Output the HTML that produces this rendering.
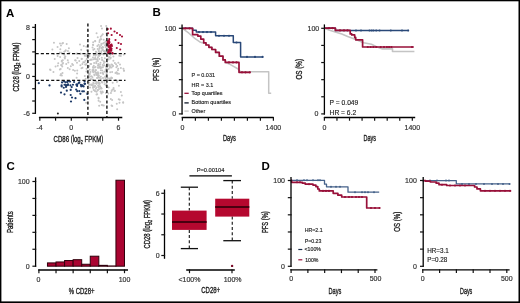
<!DOCTYPE html>
<html><head><meta charset="utf-8"><style>
html,body{margin:0;padding:0;background:#fff;}
body{width:520px;height:303px;overflow:hidden;}
svg{display:block;font-family:"Liberation Sans", sans-serif;will-change:transform;}
</style></head><body>
<svg width="520" height="303" viewBox="0 0 520 303">
<rect x="0" y="0" width="520" height="303" fill="#fff"/>
<text x="5.90" y="16.90" font-size="11.5" text-anchor="start" fill="#000" font-weight="bold" >A</text>
<circle cx="97.71" cy="49.09" r="1.0" fill="#c5c5c5"/>
<circle cx="99.54" cy="47.33" r="1.0" fill="#c5c5c5"/>
<circle cx="96.87" cy="53.15" r="1.0" fill="#c5c5c5"/>
<circle cx="103.68" cy="39.72" r="1.0" fill="#c5c5c5"/>
<circle cx="97.77" cy="37.19" r="1.0" fill="#c5c5c5"/>
<circle cx="101.85" cy="47.84" r="1.0" fill="#c5c5c5"/>
<circle cx="95.23" cy="41.23" r="1.0" fill="#c5c5c5"/>
<circle cx="106.69" cy="50.43" r="1.0" fill="#c5c5c5"/>
<circle cx="86.94" cy="50.25" r="1.0" fill="#c5c5c5"/>
<circle cx="101.22" cy="39.20" r="1.0" fill="#c5c5c5"/>
<circle cx="106.74" cy="52.11" r="1.0" fill="#c5c5c5"/>
<circle cx="104.74" cy="53.19" r="1.0" fill="#c5c5c5"/>
<circle cx="105.32" cy="45.00" r="1.0" fill="#c5c5c5"/>
<circle cx="98.73" cy="51.27" r="1.0" fill="#c5c5c5"/>
<circle cx="93.18" cy="44.88" r="1.0" fill="#c5c5c5"/>
<circle cx="96.14" cy="51.77" r="1.0" fill="#c5c5c5"/>
<circle cx="95.71" cy="53.97" r="1.0" fill="#c5c5c5"/>
<circle cx="101.27" cy="51.22" r="1.0" fill="#c5c5c5"/>
<circle cx="100.76" cy="36.80" r="1.0" fill="#c5c5c5"/>
<circle cx="105.20" cy="45.39" r="1.0" fill="#c5c5c5"/>
<circle cx="106.76" cy="49.19" r="1.0" fill="#c5c5c5"/>
<circle cx="106.67" cy="40.92" r="1.0" fill="#c5c5c5"/>
<circle cx="102.99" cy="43.44" r="1.0" fill="#c5c5c5"/>
<circle cx="92.53" cy="47.43" r="1.0" fill="#c5c5c5"/>
<circle cx="102.01" cy="53.97" r="1.0" fill="#c5c5c5"/>
<circle cx="99.88" cy="46.17" r="1.0" fill="#c5c5c5"/>
<circle cx="99.51" cy="52.39" r="1.0" fill="#c5c5c5"/>
<circle cx="97.39" cy="45.89" r="1.0" fill="#c5c5c5"/>
<circle cx="106.37" cy="43.86" r="1.0" fill="#c5c5c5"/>
<circle cx="101.36" cy="47.91" r="1.0" fill="#c5c5c5"/>
<circle cx="94.36" cy="49.10" r="1.0" fill="#c5c5c5"/>
<circle cx="103.06" cy="47.40" r="1.0" fill="#c5c5c5"/>
<circle cx="105.24" cy="51.29" r="1.0" fill="#c5c5c5"/>
<circle cx="106.04" cy="46.22" r="1.0" fill="#c5c5c5"/>
<circle cx="99.38" cy="48.85" r="1.0" fill="#c5c5c5"/>
<circle cx="102.77" cy="34.35" r="1.0" fill="#c5c5c5"/>
<circle cx="99.68" cy="40.31" r="1.0" fill="#c5c5c5"/>
<circle cx="101.28" cy="44.92" r="1.0" fill="#c5c5c5"/>
<circle cx="106.03" cy="43.97" r="1.0" fill="#c5c5c5"/>
<circle cx="93.31" cy="49.74" r="1.0" fill="#c5c5c5"/>
<circle cx="101.95" cy="28.52" r="1.0" fill="#c5c5c5"/>
<circle cx="105.54" cy="41.38" r="1.0" fill="#c5c5c5"/>
<circle cx="100.51" cy="39.24" r="1.0" fill="#c5c5c5"/>
<circle cx="88.03" cy="30.91" r="1.0" fill="#c5c5c5"/>
<circle cx="106.08" cy="44.22" r="1.0" fill="#c5c5c5"/>
<circle cx="106.48" cy="42.51" r="1.0" fill="#c5c5c5"/>
<circle cx="106.60" cy="49.14" r="1.0" fill="#c5c5c5"/>
<circle cx="98.57" cy="44.78" r="1.0" fill="#c5c5c5"/>
<circle cx="107.02" cy="36.39" r="1.0" fill="#c5c5c5"/>
<circle cx="101.41" cy="43.69" r="1.0" fill="#c5c5c5"/>
<circle cx="98.60" cy="50.20" r="1.0" fill="#c5c5c5"/>
<circle cx="93.18" cy="42.22" r="1.0" fill="#c5c5c5"/>
<circle cx="105.60" cy="47.14" r="1.0" fill="#c5c5c5"/>
<circle cx="95.11" cy="40.95" r="1.0" fill="#c5c5c5"/>
<circle cx="107.48" cy="45.57" r="1.0" fill="#c5c5c5"/>
<circle cx="106.24" cy="26.00" r="1.0" fill="#c5c5c5"/>
<circle cx="101.05" cy="26.00" r="1.0" fill="#c5c5c5"/>
<circle cx="99.47" cy="42.07" r="1.0" fill="#c5c5c5"/>
<circle cx="104.20" cy="51.12" r="1.0" fill="#c5c5c5"/>
<circle cx="87.59" cy="45.97" r="1.0" fill="#c5c5c5"/>
<circle cx="106.59" cy="33.75" r="1.0" fill="#c5c5c5"/>
<circle cx="106.85" cy="29.80" r="1.0" fill="#c5c5c5"/>
<circle cx="102.02" cy="47.83" r="1.0" fill="#c5c5c5"/>
<circle cx="101.73" cy="35.48" r="1.0" fill="#c5c5c5"/>
<circle cx="102.27" cy="50.08" r="1.0" fill="#c5c5c5"/>
<circle cx="92.93" cy="44.73" r="1.0" fill="#c5c5c5"/>
<circle cx="102.61" cy="47.06" r="1.0" fill="#c5c5c5"/>
<circle cx="102.81" cy="49.64" r="1.0" fill="#c5c5c5"/>
<circle cx="101.20" cy="52.93" r="1.0" fill="#c5c5c5"/>
<circle cx="104.84" cy="52.46" r="1.0" fill="#c5c5c5"/>
<circle cx="104.07" cy="42.84" r="1.0" fill="#c5c5c5"/>
<circle cx="103.68" cy="50.97" r="1.0" fill="#c5c5c5"/>
<circle cx="96.59" cy="33.15" r="1.0" fill="#c5c5c5"/>
<circle cx="95.89" cy="51.68" r="1.0" fill="#c5c5c5"/>
<circle cx="95.17" cy="57.65" r="1.0" fill="#c5c5c5"/>
<circle cx="89.11" cy="54.91" r="1.0" fill="#c5c5c5"/>
<circle cx="116.45" cy="72.23" r="1.0" fill="#c5c5c5"/>
<circle cx="100.97" cy="79.03" r="1.0" fill="#c5c5c5"/>
<circle cx="110.28" cy="66.54" r="1.0" fill="#c5c5c5"/>
<circle cx="100.52" cy="72.99" r="1.0" fill="#c5c5c5"/>
<circle cx="86.13" cy="55.96" r="1.0" fill="#c5c5c5"/>
<circle cx="97.60" cy="73.16" r="1.0" fill="#c5c5c5"/>
<circle cx="103.77" cy="63.15" r="1.0" fill="#c5c5c5"/>
<circle cx="112.15" cy="64.85" r="1.0" fill="#c5c5c5"/>
<circle cx="89.55" cy="74.55" r="1.0" fill="#c5c5c5"/>
<circle cx="105.82" cy="70.25" r="1.0" fill="#c5c5c5"/>
<circle cx="91.11" cy="63.94" r="1.0" fill="#c5c5c5"/>
<circle cx="89.48" cy="56.09" r="1.0" fill="#c5c5c5"/>
<circle cx="93.56" cy="70.62" r="1.0" fill="#c5c5c5"/>
<circle cx="115.45" cy="72.93" r="1.0" fill="#c5c5c5"/>
<circle cx="98.31" cy="64.10" r="1.0" fill="#c5c5c5"/>
<circle cx="98.01" cy="65.45" r="1.0" fill="#c5c5c5"/>
<circle cx="88.50" cy="75.80" r="1.0" fill="#c5c5c5"/>
<circle cx="110.52" cy="54.77" r="1.0" fill="#c5c5c5"/>
<circle cx="105.69" cy="69.63" r="1.0" fill="#c5c5c5"/>
<circle cx="93.25" cy="72.16" r="1.0" fill="#c5c5c5"/>
<circle cx="99.69" cy="66.93" r="1.0" fill="#c5c5c5"/>
<circle cx="85.46" cy="60.65" r="1.0" fill="#c5c5c5"/>
<circle cx="87.14" cy="54.29" r="1.0" fill="#c5c5c5"/>
<circle cx="95.20" cy="59.27" r="1.0" fill="#c5c5c5"/>
<circle cx="110.43" cy="58.41" r="1.0" fill="#c5c5c5"/>
<circle cx="108.75" cy="65.49" r="1.0" fill="#c5c5c5"/>
<circle cx="92.44" cy="77.18" r="1.0" fill="#c5c5c5"/>
<circle cx="93.49" cy="59.16" r="1.0" fill="#c5c5c5"/>
<circle cx="109.49" cy="65.20" r="1.0" fill="#c5c5c5"/>
<circle cx="105.11" cy="76.89" r="1.0" fill="#c5c5c5"/>
<circle cx="82.36" cy="63.99" r="1.0" fill="#c5c5c5"/>
<circle cx="92.95" cy="57.54" r="1.0" fill="#c5c5c5"/>
<circle cx="95.52" cy="66.91" r="1.0" fill="#c5c5c5"/>
<circle cx="107.09" cy="72.49" r="1.0" fill="#c5c5c5"/>
<circle cx="85.72" cy="78.70" r="1.0" fill="#c5c5c5"/>
<circle cx="98.18" cy="65.72" r="1.0" fill="#c5c5c5"/>
<circle cx="103.80" cy="61.15" r="1.0" fill="#c5c5c5"/>
<circle cx="100.85" cy="70.27" r="1.0" fill="#c5c5c5"/>
<circle cx="107.06" cy="66.84" r="1.0" fill="#c5c5c5"/>
<circle cx="92.89" cy="79.53" r="1.0" fill="#c5c5c5"/>
<circle cx="113.02" cy="65.76" r="1.0" fill="#c5c5c5"/>
<circle cx="100.80" cy="76.69" r="1.0" fill="#c5c5c5"/>
<circle cx="99.92" cy="55.08" r="1.0" fill="#c5c5c5"/>
<circle cx="96.33" cy="62.03" r="1.0" fill="#c5c5c5"/>
<circle cx="88.95" cy="74.58" r="1.0" fill="#c5c5c5"/>
<circle cx="103.29" cy="65.83" r="1.0" fill="#c5c5c5"/>
<circle cx="99.52" cy="54.64" r="1.0" fill="#c5c5c5"/>
<circle cx="101.83" cy="57.66" r="1.0" fill="#c5c5c5"/>
<circle cx="93.83" cy="55.22" r="1.0" fill="#c5c5c5"/>
<circle cx="93.01" cy="70.38" r="1.0" fill="#c5c5c5"/>
<circle cx="92.69" cy="71.03" r="1.0" fill="#c5c5c5"/>
<circle cx="106.12" cy="71.80" r="1.0" fill="#c5c5c5"/>
<circle cx="94.04" cy="54.28" r="1.0" fill="#c5c5c5"/>
<circle cx="99.78" cy="66.28" r="1.0" fill="#c5c5c5"/>
<circle cx="97.88" cy="61.08" r="1.0" fill="#c5c5c5"/>
<circle cx="94.10" cy="62.99" r="1.0" fill="#c5c5c5"/>
<circle cx="95.85" cy="69.98" r="1.0" fill="#c5c5c5"/>
<circle cx="89.83" cy="73.66" r="1.0" fill="#c5c5c5"/>
<circle cx="87.88" cy="77.56" r="1.0" fill="#c5c5c5"/>
<circle cx="107.79" cy="56.27" r="1.0" fill="#c5c5c5"/>
<circle cx="110.68" cy="57.38" r="1.0" fill="#c5c5c5"/>
<circle cx="93.74" cy="65.79" r="1.0" fill="#c5c5c5"/>
<circle cx="86.63" cy="63.80" r="1.0" fill="#c5c5c5"/>
<circle cx="86.54" cy="68.79" r="1.0" fill="#c5c5c5"/>
<circle cx="109.37" cy="78.55" r="1.0" fill="#c5c5c5"/>
<circle cx="89.18" cy="66.06" r="1.0" fill="#c5c5c5"/>
<circle cx="95.85" cy="72.77" r="1.0" fill="#c5c5c5"/>
<circle cx="94.59" cy="75.28" r="1.0" fill="#c5c5c5"/>
<circle cx="90.99" cy="59.55" r="1.0" fill="#c5c5c5"/>
<circle cx="89.11" cy="77.40" r="1.0" fill="#c5c5c5"/>
<circle cx="120.85" cy="67.96" r="1.0" fill="#c5c5c5"/>
<circle cx="96.31" cy="74.56" r="1.0" fill="#c5c5c5"/>
<circle cx="91.49" cy="76.25" r="1.0" fill="#c5c5c5"/>
<circle cx="114.87" cy="63.06" r="1.0" fill="#c5c5c5"/>
<circle cx="106.49" cy="68.31" r="1.0" fill="#c5c5c5"/>
<circle cx="103.29" cy="73.97" r="1.0" fill="#c5c5c5"/>
<circle cx="97.09" cy="75.04" r="1.0" fill="#c5c5c5"/>
<circle cx="99.15" cy="55.67" r="1.0" fill="#c5c5c5"/>
<circle cx="100.52" cy="62.71" r="1.0" fill="#c5c5c5"/>
<circle cx="94.31" cy="74.49" r="1.0" fill="#c5c5c5"/>
<circle cx="101.88" cy="67.43" r="1.0" fill="#c5c5c5"/>
<circle cx="102.51" cy="72.81" r="1.0" fill="#c5c5c5"/>
<circle cx="105.55" cy="78.59" r="1.0" fill="#c5c5c5"/>
<circle cx="88.67" cy="66.81" r="1.0" fill="#c5c5c5"/>
<circle cx="102.22" cy="59.76" r="1.0" fill="#c5c5c5"/>
<circle cx="97.93" cy="67.69" r="1.0" fill="#c5c5c5"/>
<circle cx="95.77" cy="70.61" r="1.0" fill="#c5c5c5"/>
<circle cx="111.52" cy="67.59" r="1.0" fill="#c5c5c5"/>
<circle cx="104.69" cy="62.10" r="1.0" fill="#c5c5c5"/>
<circle cx="90.47" cy="63.91" r="1.0" fill="#c5c5c5"/>
<circle cx="108.68" cy="59.41" r="1.0" fill="#c5c5c5"/>
<circle cx="84.80" cy="76.12" r="1.0" fill="#c5c5c5"/>
<circle cx="108.56" cy="68.90" r="1.0" fill="#c5c5c5"/>
<circle cx="97.08" cy="59.23" r="1.0" fill="#c5c5c5"/>
<circle cx="89.78" cy="69.74" r="1.0" fill="#c5c5c5"/>
<circle cx="96.88" cy="54.72" r="1.0" fill="#c5c5c5"/>
<circle cx="108.46" cy="64.42" r="1.0" fill="#c5c5c5"/>
<circle cx="97.16" cy="74.83" r="1.0" fill="#c5c5c5"/>
<circle cx="90.42" cy="71.97" r="1.0" fill="#c5c5c5"/>
<circle cx="95.42" cy="55.71" r="1.0" fill="#c5c5c5"/>
<circle cx="90.98" cy="78.88" r="1.0" fill="#c5c5c5"/>
<circle cx="97.01" cy="78.01" r="1.0" fill="#c5c5c5"/>
<circle cx="97.91" cy="57.30" r="1.0" fill="#c5c5c5"/>
<circle cx="107.99" cy="65.28" r="1.0" fill="#c5c5c5"/>
<circle cx="105.90" cy="66.39" r="1.0" fill="#c5c5c5"/>
<circle cx="83.26" cy="62.25" r="1.0" fill="#c5c5c5"/>
<circle cx="102.99" cy="78.06" r="1.0" fill="#c5c5c5"/>
<circle cx="109.35" cy="57.37" r="1.0" fill="#c5c5c5"/>
<circle cx="99.31" cy="59.05" r="1.0" fill="#c5c5c5"/>
<circle cx="97.31" cy="59.91" r="1.0" fill="#c5c5c5"/>
<circle cx="96.28" cy="63.24" r="1.0" fill="#c5c5c5"/>
<circle cx="92.49" cy="70.11" r="1.0" fill="#c5c5c5"/>
<circle cx="109.25" cy="57.19" r="1.0" fill="#c5c5c5"/>
<circle cx="106.94" cy="67.27" r="1.0" fill="#c5c5c5"/>
<circle cx="98.98" cy="67.79" r="1.0" fill="#c5c5c5"/>
<circle cx="104.31" cy="65.36" r="1.0" fill="#c5c5c5"/>
<circle cx="93.13" cy="67.76" r="1.0" fill="#c5c5c5"/>
<circle cx="104.82" cy="58.15" r="1.0" fill="#c5c5c5"/>
<circle cx="102.20" cy="70.60" r="1.0" fill="#c5c5c5"/>
<circle cx="109.84" cy="67.77" r="1.0" fill="#c5c5c5"/>
<circle cx="105.54" cy="76.28" r="1.0" fill="#c5c5c5"/>
<circle cx="90.15" cy="60.05" r="1.0" fill="#c5c5c5"/>
<circle cx="98.15" cy="77.47" r="1.0" fill="#c5c5c5"/>
<circle cx="84.43" cy="62.21" r="1.0" fill="#c5c5c5"/>
<circle cx="91.81" cy="59.67" r="1.0" fill="#c5c5c5"/>
<circle cx="115.62" cy="79.96" r="1.0" fill="#c5c5c5"/>
<circle cx="102.26" cy="60.22" r="1.0" fill="#c5c5c5"/>
<circle cx="96.21" cy="72.89" r="1.0" fill="#c5c5c5"/>
<circle cx="98.78" cy="75.64" r="1.0" fill="#c5c5c5"/>
<circle cx="102.61" cy="64.96" r="1.0" fill="#c5c5c5"/>
<circle cx="100.03" cy="64.47" r="1.0" fill="#c5c5c5"/>
<circle cx="94.98" cy="71.82" r="1.0" fill="#c5c5c5"/>
<circle cx="104.33" cy="71.74" r="1.0" fill="#c5c5c5"/>
<circle cx="99.60" cy="77.70" r="1.0" fill="#c5c5c5"/>
<circle cx="102.88" cy="67.15" r="1.0" fill="#c5c5c5"/>
<circle cx="98.22" cy="73.71" r="1.0" fill="#c5c5c5"/>
<circle cx="86.83" cy="58.91" r="1.0" fill="#c5c5c5"/>
<circle cx="98.79" cy="55.83" r="1.0" fill="#c5c5c5"/>
<circle cx="100.74" cy="68.34" r="1.0" fill="#c5c5c5"/>
<circle cx="100.37" cy="67.39" r="1.0" fill="#c5c5c5"/>
<circle cx="94.91" cy="58.80" r="1.0" fill="#c5c5c5"/>
<circle cx="97.11" cy="59.30" r="1.0" fill="#c5c5c5"/>
<circle cx="112.08" cy="78.10" r="1.0" fill="#c5c5c5"/>
<circle cx="117.21" cy="66.01" r="1.0" fill="#c5c5c5"/>
<circle cx="106.47" cy="73.88" r="1.0" fill="#c5c5c5"/>
<circle cx="94.83" cy="67.40" r="1.0" fill="#c5c5c5"/>
<circle cx="106.95" cy="65.18" r="1.0" fill="#c5c5c5"/>
<circle cx="97.95" cy="72.23" r="1.0" fill="#c5c5c5"/>
<circle cx="98.23" cy="75.95" r="1.0" fill="#c5c5c5"/>
<circle cx="102.68" cy="73.22" r="1.0" fill="#c5c5c5"/>
<circle cx="106.99" cy="64.54" r="1.0" fill="#c5c5c5"/>
<circle cx="100.62" cy="67.33" r="1.0" fill="#c5c5c5"/>
<circle cx="103.52" cy="54.40" r="1.0" fill="#c5c5c5"/>
<circle cx="110.27" cy="72.32" r="1.0" fill="#c5c5c5"/>
<circle cx="90.05" cy="76.38" r="1.0" fill="#c5c5c5"/>
<circle cx="93.40" cy="69.59" r="1.0" fill="#c5c5c5"/>
<circle cx="93.08" cy="67.11" r="1.0" fill="#c5c5c5"/>
<circle cx="113.38" cy="60.71" r="1.0" fill="#c5c5c5"/>
<circle cx="97.43" cy="77.69" r="1.0" fill="#c5c5c5"/>
<circle cx="98.51" cy="75.18" r="1.0" fill="#c5c5c5"/>
<circle cx="85.13" cy="64.55" r="1.0" fill="#c5c5c5"/>
<circle cx="112.11" cy="72.06" r="1.0" fill="#c5c5c5"/>
<circle cx="89.03" cy="73.95" r="1.0" fill="#c5c5c5"/>
<circle cx="120.01" cy="64.55" r="1.0" fill="#c5c5c5"/>
<circle cx="119.28" cy="55.83" r="1.0" fill="#c5c5c5"/>
<circle cx="112.81" cy="66.19" r="1.0" fill="#c5c5c5"/>
<circle cx="107.18" cy="63.25" r="1.0" fill="#c5c5c5"/>
<circle cx="117.86" cy="70.22" r="1.0" fill="#c5c5c5"/>
<circle cx="110.95" cy="78.56" r="1.0" fill="#c5c5c5"/>
<circle cx="118.32" cy="62.78" r="1.0" fill="#c5c5c5"/>
<circle cx="118.22" cy="68.81" r="1.0" fill="#c5c5c5"/>
<circle cx="116.06" cy="64.13" r="1.0" fill="#c5c5c5"/>
<circle cx="124.00" cy="70.70" r="1.0" fill="#c5c5c5"/>
<circle cx="118.92" cy="73.81" r="1.0" fill="#c5c5c5"/>
<circle cx="123.66" cy="54.59" r="1.0" fill="#c5c5c5"/>
<circle cx="117.46" cy="73.21" r="1.0" fill="#c5c5c5"/>
<circle cx="111.36" cy="64.44" r="1.0" fill="#c5c5c5"/>
<circle cx="107.86" cy="59.08" r="1.0" fill="#c5c5c5"/>
<circle cx="113.39" cy="56.56" r="1.0" fill="#c5c5c5"/>
<circle cx="111.27" cy="77.55" r="1.0" fill="#c5c5c5"/>
<circle cx="116.35" cy="67.20" r="1.0" fill="#c5c5c5"/>
<circle cx="123.44" cy="68.77" r="1.0" fill="#c5c5c5"/>
<circle cx="123.92" cy="70.59" r="1.0" fill="#c5c5c5"/>
<circle cx="120.76" cy="55.98" r="1.0" fill="#c5c5c5"/>
<circle cx="117.16" cy="73.74" r="1.0" fill="#c5c5c5"/>
<circle cx="107.77" cy="78.18" r="1.0" fill="#c5c5c5"/>
<circle cx="109.72" cy="66.27" r="1.0" fill="#c5c5c5"/>
<circle cx="109.88" cy="66.88" r="1.0" fill="#c5c5c5"/>
<circle cx="97.00" cy="82.51" r="1.0" fill="#c5c5c5"/>
<circle cx="106.38" cy="83.67" r="1.0" fill="#c5c5c5"/>
<circle cx="89.02" cy="82.53" r="1.0" fill="#c5c5c5"/>
<circle cx="94.91" cy="86.02" r="1.0" fill="#c5c5c5"/>
<circle cx="93.60" cy="90.05" r="1.0" fill="#c5c5c5"/>
<circle cx="96.51" cy="94.48" r="1.0" fill="#c5c5c5"/>
<circle cx="98.64" cy="81.95" r="1.0" fill="#c5c5c5"/>
<circle cx="99.07" cy="83.16" r="1.0" fill="#c5c5c5"/>
<circle cx="105.96" cy="93.06" r="1.0" fill="#c5c5c5"/>
<circle cx="86.67" cy="92.75" r="1.0" fill="#c5c5c5"/>
<circle cx="98.98" cy="83.39" r="1.0" fill="#c5c5c5"/>
<circle cx="116.99" cy="82.03" r="1.0" fill="#c5c5c5"/>
<circle cx="113.59" cy="89.21" r="1.0" fill="#c5c5c5"/>
<circle cx="91.28" cy="84.90" r="1.0" fill="#c5c5c5"/>
<circle cx="104.53" cy="81.63" r="1.0" fill="#c5c5c5"/>
<circle cx="97.56" cy="90.47" r="1.0" fill="#c5c5c5"/>
<circle cx="112.69" cy="82.70" r="1.0" fill="#c5c5c5"/>
<circle cx="96.05" cy="83.20" r="1.0" fill="#c5c5c5"/>
<circle cx="93.12" cy="87.49" r="1.0" fill="#c5c5c5"/>
<circle cx="99.70" cy="83.32" r="1.0" fill="#c5c5c5"/>
<circle cx="95.20" cy="81.31" r="1.0" fill="#c5c5c5"/>
<circle cx="88.57" cy="85.19" r="1.0" fill="#c5c5c5"/>
<circle cx="93.38" cy="82.43" r="1.0" fill="#c5c5c5"/>
<circle cx="92.20" cy="85.14" r="1.0" fill="#c5c5c5"/>
<circle cx="100.61" cy="91.40" r="1.0" fill="#c5c5c5"/>
<circle cx="117.52" cy="80.83" r="1.0" fill="#c5c5c5"/>
<circle cx="98.45" cy="87.11" r="1.0" fill="#c5c5c5"/>
<circle cx="110.96" cy="92.97" r="1.0" fill="#c5c5c5"/>
<circle cx="101.25" cy="92.81" r="1.0" fill="#c5c5c5"/>
<circle cx="95.22" cy="86.04" r="1.0" fill="#c5c5c5"/>
<circle cx="95.16" cy="91.16" r="1.0" fill="#c5c5c5"/>
<circle cx="90.09" cy="87.44" r="1.0" fill="#c5c5c5"/>
<circle cx="99.10" cy="86.34" r="1.0" fill="#c5c5c5"/>
<circle cx="99.14" cy="105.63" r="1.0" fill="#c5c5c5"/>
<circle cx="112.30" cy="89.84" r="1.0" fill="#c5c5c5"/>
<circle cx="101.57" cy="81.28" r="1.0" fill="#c5c5c5"/>
<circle cx="97.96" cy="89.89" r="1.0" fill="#c5c5c5"/>
<circle cx="96.51" cy="83.43" r="1.0" fill="#c5c5c5"/>
<circle cx="96.19" cy="81.40" r="1.0" fill="#c5c5c5"/>
<circle cx="108.64" cy="87.49" r="1.0" fill="#c5c5c5"/>
<circle cx="88.94" cy="84.48" r="1.0" fill="#c5c5c5"/>
<circle cx="93.02" cy="87.84" r="1.0" fill="#c5c5c5"/>
<circle cx="100.69" cy="88.51" r="1.0" fill="#c5c5c5"/>
<circle cx="98.53" cy="97.68" r="1.0" fill="#c5c5c5"/>
<circle cx="102.38" cy="82.55" r="1.0" fill="#c5c5c5"/>
<circle cx="102.81" cy="92.22" r="1.0" fill="#c5c5c5"/>
<circle cx="99.61" cy="86.69" r="1.0" fill="#c5c5c5"/>
<circle cx="93.85" cy="83.68" r="1.0" fill="#c5c5c5"/>
<circle cx="101.64" cy="88.53" r="1.0" fill="#c5c5c5"/>
<circle cx="86.16" cy="102.77" r="1.0" fill="#c5c5c5"/>
<circle cx="94.68" cy="90.60" r="1.0" fill="#c5c5c5"/>
<circle cx="98.59" cy="100.76" r="1.0" fill="#c5c5c5"/>
<circle cx="92.53" cy="84.29" r="1.0" fill="#c5c5c5"/>
<circle cx="111.54" cy="91.01" r="1.0" fill="#c5c5c5"/>
<circle cx="101.75" cy="82.27" r="1.0" fill="#c5c5c5"/>
<circle cx="91.06" cy="84.57" r="1.0" fill="#c5c5c5"/>
<circle cx="96.50" cy="87.47" r="1.0" fill="#c5c5c5"/>
<circle cx="99.48" cy="84.03" r="1.0" fill="#c5c5c5"/>
<circle cx="101.53" cy="93.41" r="1.0" fill="#c5c5c5"/>
<circle cx="104.56" cy="84.26" r="1.0" fill="#c5c5c5"/>
<circle cx="97.19" cy="94.18" r="1.0" fill="#c5c5c5"/>
<circle cx="98.14" cy="85.39" r="1.0" fill="#c5c5c5"/>
<circle cx="91.44" cy="91.78" r="1.0" fill="#c5c5c5"/>
<circle cx="96.50" cy="83.85" r="1.0" fill="#c5c5c5"/>
<circle cx="96.54" cy="91.80" r="1.0" fill="#c5c5c5"/>
<circle cx="114.51" cy="90.95" r="1.0" fill="#c5c5c5"/>
<circle cx="105.89" cy="85.50" r="1.0" fill="#c5c5c5"/>
<circle cx="101.09" cy="87.75" r="1.0" fill="#c5c5c5"/>
<circle cx="95.88" cy="88.78" r="1.0" fill="#c5c5c5"/>
<circle cx="113.59" cy="88.12" r="1.0" fill="#c5c5c5"/>
<circle cx="99.08" cy="89.03" r="1.0" fill="#c5c5c5"/>
<circle cx="94.27" cy="86.89" r="1.0" fill="#c5c5c5"/>
<circle cx="93.11" cy="85.94" r="1.0" fill="#c5c5c5"/>
<circle cx="102.27" cy="91.41" r="1.0" fill="#c5c5c5"/>
<circle cx="118.72" cy="99.14" r="1.0" fill="#c5c5c5"/>
<circle cx="119.75" cy="99.76" r="1.0" fill="#c5c5c5"/>
<circle cx="102.59" cy="105.25" r="1.0" fill="#c5c5c5"/>
<circle cx="120.90" cy="91.88" r="1.0" fill="#c5c5c5"/>
<circle cx="98.58" cy="98.44" r="1.0" fill="#c5c5c5"/>
<circle cx="112.15" cy="99.89" r="1.0" fill="#c5c5c5"/>
<circle cx="123.13" cy="102.23" r="1.0" fill="#c5c5c5"/>
<circle cx="118.91" cy="85.79" r="1.0" fill="#c5c5c5"/>
<circle cx="112.22" cy="106.07" r="1.0" fill="#c5c5c5"/>
<circle cx="100.19" cy="86.29" r="1.0" fill="#c5c5c5"/>
<circle cx="117.16" cy="109.17" r="1.0" fill="#c5c5c5"/>
<circle cx="100.20" cy="101.76" r="1.0" fill="#c5c5c5"/>
<circle cx="101.74" cy="104.88" r="1.0" fill="#c5c5c5"/>
<circle cx="114.87" cy="90.87" r="1.0" fill="#c5c5c5"/>
<circle cx="103.73" cy="105.43" r="1.0" fill="#c5c5c5"/>
<circle cx="111.56" cy="105.41" r="1.0" fill="#c5c5c5"/>
<circle cx="108.25" cy="93.46" r="1.0" fill="#c5c5c5"/>
<circle cx="123.18" cy="102.83" r="1.0" fill="#c5c5c5"/>
<circle cx="110.84" cy="99.05" r="1.0" fill="#c5c5c5"/>
<circle cx="116.74" cy="103.83" r="1.0" fill="#c5c5c5"/>
<circle cx="121.79" cy="95.50" r="1.0" fill="#c5c5c5"/>
<circle cx="119.48" cy="102.67" r="1.0" fill="#c5c5c5"/>
<circle cx="82.43" cy="67.87" r="1.0" fill="#c5c5c5"/>
<circle cx="83.77" cy="45.99" r="1.0" fill="#c5c5c5"/>
<circle cx="86.40" cy="55.03" r="1.0" fill="#c5c5c5"/>
<circle cx="76.98" cy="53.54" r="1.0" fill="#c5c5c5"/>
<circle cx="80.49" cy="53.72" r="1.0" fill="#c5c5c5"/>
<circle cx="55.56" cy="66.45" r="1.0" fill="#c5c5c5"/>
<circle cx="87.66" cy="58.13" r="1.0" fill="#c5c5c5"/>
<circle cx="57.77" cy="65.84" r="1.0" fill="#c5c5c5"/>
<circle cx="61.10" cy="65.09" r="1.0" fill="#c5c5c5"/>
<circle cx="61.72" cy="61.41" r="1.0" fill="#c5c5c5"/>
<circle cx="52.37" cy="49.52" r="1.0" fill="#c5c5c5"/>
<circle cx="72.19" cy="64.06" r="1.0" fill="#c5c5c5"/>
<circle cx="58.26" cy="63.31" r="1.0" fill="#c5c5c5"/>
<circle cx="60.68" cy="69.09" r="1.0" fill="#c5c5c5"/>
<circle cx="61.85" cy="75.39" r="1.0" fill="#c5c5c5"/>
<circle cx="70.83" cy="66.21" r="1.0" fill="#c5c5c5"/>
<circle cx="59.90" cy="52.62" r="1.0" fill="#c5c5c5"/>
<circle cx="84.74" cy="55.80" r="1.0" fill="#c5c5c5"/>
<circle cx="86.37" cy="71.49" r="1.0" fill="#c5c5c5"/>
<circle cx="68.34" cy="62.52" r="1.0" fill="#c5c5c5"/>
<circle cx="86.01" cy="64.83" r="1.0" fill="#c5c5c5"/>
<circle cx="80.45" cy="53.73" r="1.0" fill="#c5c5c5"/>
<circle cx="69.60" cy="69.29" r="1.0" fill="#c5c5c5"/>
<circle cx="60.43" cy="75.15" r="1.0" fill="#c5c5c5"/>
<circle cx="67.96" cy="50.89" r="1.0" fill="#c5c5c5"/>
<circle cx="77.10" cy="73.60" r="1.0" fill="#c5c5c5"/>
<circle cx="73.03" cy="64.89" r="1.0" fill="#c5c5c5"/>
<circle cx="62.23" cy="66.39" r="1.0" fill="#c5c5c5"/>
<circle cx="59.86" cy="69.39" r="1.0" fill="#c5c5c5"/>
<circle cx="87.74" cy="54.06" r="1.0" fill="#c5c5c5"/>
<circle cx="60.13" cy="56.98" r="1.0" fill="#c5c5c5"/>
<circle cx="79.27" cy="60.89" r="1.0" fill="#c5c5c5"/>
<circle cx="50.05" cy="69.55" r="1.0" fill="#c5c5c5"/>
<circle cx="77.23" cy="70.43" r="1.0" fill="#c5c5c5"/>
<circle cx="67.81" cy="67.90" r="1.0" fill="#c5c5c5"/>
<circle cx="86.31" cy="46.81" r="1.0" fill="#c5c5c5"/>
<circle cx="61.54" cy="52.80" r="1.0" fill="#c5c5c5"/>
<circle cx="79.99" cy="44.60" r="1.0" fill="#c5c5c5"/>
<circle cx="53.46" cy="72.00" r="1.0" fill="#c5c5c5"/>
<circle cx="81.62" cy="59.04" r="1.0" fill="#c5c5c5"/>
<circle cx="61.83" cy="60.67" r="1.0" fill="#c5c5c5"/>
<circle cx="61.62" cy="65.32" r="1.0" fill="#c5c5c5"/>
<circle cx="67.75" cy="60.15" r="1.0" fill="#c5c5c5"/>
<circle cx="76.11" cy="53.70" r="1.0" fill="#c5c5c5"/>
<circle cx="54.02" cy="54.11" r="1.0" fill="#c5c5c5"/>
<circle cx="81.53" cy="68.18" r="1.0" fill="#c5c5c5"/>
<circle cx="74.85" cy="70.73" r="1.0" fill="#c5c5c5"/>
<circle cx="76.98" cy="62.68" r="1.0" fill="#c5c5c5"/>
<circle cx="87.68" cy="58.09" r="1.0" fill="#c5c5c5"/>
<circle cx="80.38" cy="65.34" r="1.0" fill="#c5c5c5"/>
<circle cx="61.03" cy="74.00" r="1.0" fill="#c5c5c5"/>
<circle cx="64.29" cy="54.66" r="1.0" fill="#c5c5c5"/>
<circle cx="62.82" cy="60.13" r="1.0" fill="#c5c5c5"/>
<circle cx="64.90" cy="58.54" r="1.0" fill="#c5c5c5"/>
<circle cx="57.60" cy="56.00" r="1.0" fill="#c5c5c5"/>
<circle cx="62.52" cy="72.89" r="1.0" fill="#c5c5c5"/>
<circle cx="77.50" cy="58.08" r="1.0" fill="#c5c5c5"/>
<circle cx="62.60" cy="63.84" r="1.0" fill="#c5c5c5"/>
<circle cx="75.75" cy="60.53" r="1.0" fill="#c5c5c5"/>
<circle cx="65.29" cy="56.53" r="1.0" fill="#c5c5c5"/>
<circle cx="81.80" cy="58.73" r="1.0" fill="#c5c5c5"/>
<circle cx="54.72" cy="59.09" r="1.0" fill="#c5c5c5"/>
<circle cx="66.23" cy="63.93" r="1.0" fill="#c5c5c5"/>
<circle cx="69.44" cy="52.76" r="1.0" fill="#c5c5c5"/>
<circle cx="81.20" cy="49.73" r="1.0" fill="#c5c5c5"/>
<circle cx="64.67" cy="57.46" r="1.0" fill="#c5c5c5"/>
<circle cx="50.59" cy="70.09" r="1.0" fill="#c5c5c5"/>
<circle cx="76.60" cy="77.79" r="1.0" fill="#c5c5c5"/>
<circle cx="75.09" cy="60.20" r="1.0" fill="#c5c5c5"/>
<circle cx="73.13" cy="70.02" r="1.0" fill="#c5c5c5"/>
<circle cx="63.00" cy="62.94" r="1.0" fill="#c5c5c5"/>
<circle cx="63.01" cy="43.06" r="1.0" fill="#c5c5c5"/>
<circle cx="57.55" cy="47.09" r="1.0" fill="#c5c5c5"/>
<circle cx="65.77" cy="50.25" r="1.0" fill="#c5c5c5"/>
<circle cx="62.23" cy="43.58" r="1.0" fill="#c5c5c5"/>
<circle cx="65.33" cy="51.03" r="1.0" fill="#c5c5c5"/>
<circle cx="60.97" cy="45.53" r="1.0" fill="#c5c5c5"/>
<circle cx="60.01" cy="43.42" r="1.0" fill="#c5c5c5"/>
<circle cx="64.27" cy="51.87" r="1.0" fill="#c5c5c5"/>
<circle cx="60.32" cy="49.15" r="1.0" fill="#c5c5c5"/>
<circle cx="66.71" cy="43.97" r="1.0" fill="#c5c5c5"/>
<circle cx="68.90" cy="48.27" r="1.0" fill="#c5c5c5"/>
<circle cx="53.96" cy="42.83" r="1.0" fill="#c5c5c5"/>
<circle cx="107.72" cy="41.55" r="1.05" fill="#a50c34"/>
<circle cx="108.36" cy="45.98" r="1.05" fill="#a50c34"/>
<circle cx="109.82" cy="50.12" r="1.05" fill="#a50c34"/>
<circle cx="108.90" cy="52.87" r="1.05" fill="#a50c34"/>
<circle cx="108.98" cy="53.15" r="1.05" fill="#a50c34"/>
<circle cx="110.28" cy="47.26" r="1.05" fill="#a50c34"/>
<circle cx="110.69" cy="49.46" r="1.05" fill="#a50c34"/>
<circle cx="108.11" cy="33.27" r="1.05" fill="#a50c34"/>
<circle cx="112.39" cy="53.13" r="1.05" fill="#a50c34"/>
<circle cx="108.67" cy="51.11" r="1.05" fill="#a50c34"/>
<circle cx="108.57" cy="47.01" r="1.05" fill="#a50c34"/>
<circle cx="109.14" cy="49.75" r="1.05" fill="#a50c34"/>
<circle cx="111.99" cy="46.01" r="1.05" fill="#a50c34"/>
<circle cx="108.89" cy="43.00" r="1.05" fill="#a50c34"/>
<circle cx="108.19" cy="52.88" r="1.05" fill="#a50c34"/>
<circle cx="110.86" cy="28.66" r="1.05" fill="#a50c34"/>
<circle cx="111.14" cy="48.83" r="1.05" fill="#a50c34"/>
<circle cx="108.97" cy="40.75" r="1.05" fill="#a50c34"/>
<circle cx="107.80" cy="44.71" r="1.05" fill="#a50c34"/>
<circle cx="111.53" cy="44.64" r="1.05" fill="#a50c34"/>
<circle cx="109.33" cy="53.35" r="1.05" fill="#a50c34"/>
<circle cx="109.02" cy="52.95" r="1.05" fill="#a50c34"/>
<circle cx="110.15" cy="45.92" r="1.05" fill="#a50c34"/>
<circle cx="109.05" cy="43.79" r="1.05" fill="#a50c34"/>
<circle cx="107.89" cy="41.74" r="1.05" fill="#a50c34"/>
<circle cx="109.44" cy="42.16" r="1.05" fill="#a50c34"/>
<circle cx="111.37" cy="50.66" r="1.05" fill="#a50c34"/>
<circle cx="111.64" cy="35.03" r="1.05" fill="#a50c34"/>
<circle cx="109.97" cy="47.70" r="1.05" fill="#a50c34"/>
<circle cx="110.69" cy="46.98" r="1.05" fill="#a50c34"/>
<circle cx="109.23" cy="39.15" r="1.05" fill="#a50c34"/>
<circle cx="107.63" cy="43.04" r="1.05" fill="#a50c34"/>
<circle cx="112.56" cy="53.39" r="1.05" fill="#a50c34"/>
<circle cx="109.24" cy="46.30" r="1.05" fill="#a50c34"/>
<circle cx="110.67" cy="49.05" r="1.05" fill="#a50c34"/>
<circle cx="110.23" cy="47.49" r="1.05" fill="#a50c34"/>
<circle cx="110.33" cy="52.42" r="1.05" fill="#a50c34"/>
<circle cx="109.49" cy="49.27" r="1.05" fill="#a50c34"/>
<circle cx="111.54" cy="48.85" r="1.05" fill="#a50c34"/>
<circle cx="111.02" cy="44.95" r="1.05" fill="#a50c34"/>
<circle cx="111.15" cy="44.88" r="1.05" fill="#a50c34"/>
<circle cx="108.78" cy="42.00" r="1.05" fill="#a50c34"/>
<circle cx="108.81" cy="51.92" r="1.05" fill="#a50c34"/>
<circle cx="110.50" cy="50.33" r="1.05" fill="#a50c34"/>
<circle cx="108.28" cy="52.12" r="1.05" fill="#a50c34"/>
<circle cx="108.68" cy="43.08" r="1.05" fill="#a50c34"/>
<circle cx="117.00" cy="33.00" r="1.05" fill="#a50c34"/>
<circle cx="120.00" cy="35.00" r="1.05" fill="#a50c34"/>
<circle cx="122.00" cy="36.50" r="1.05" fill="#a50c34"/>
<circle cx="115.50" cy="40.00" r="1.05" fill="#a50c34"/>
<circle cx="118.50" cy="43.00" r="1.05" fill="#a50c34"/>
<circle cx="116.80" cy="48.00" r="1.05" fill="#a50c34"/>
<circle cx="120.20" cy="49.50" r="1.05" fill="#a50c34"/>
<circle cx="114.50" cy="31.50" r="1.05" fill="#a50c34"/>
<circle cx="121.00" cy="44.00" r="1.05" fill="#a50c34"/>
<circle cx="107.80" cy="29.10" r="1.05" fill="#a50c34"/>
<circle cx="38.80" cy="83.20" r="1.1" fill="#1d3a68"/>
<circle cx="49.50" cy="85.40" r="1.1" fill="#1d3a68"/>
<circle cx="61.00" cy="92.60" r="1.1" fill="#1d3a68"/>
<circle cx="64.50" cy="94.30" r="1.1" fill="#1d3a68"/>
<circle cx="70.70" cy="89.90" r="1.1" fill="#1d3a68"/>
<circle cx="70.70" cy="95.00" r="1.1" fill="#1d3a68"/>
<circle cx="72.00" cy="97.50" r="1.1" fill="#1d3a68"/>
<circle cx="71.00" cy="101.50" r="1.1" fill="#1d3a68"/>
<circle cx="76.20" cy="89.60" r="1.1" fill="#1d3a68"/>
<circle cx="75.50" cy="98.20" r="1.1" fill="#1d3a68"/>
<circle cx="80.40" cy="93.80" r="1.1" fill="#1d3a68"/>
<circle cx="83.90" cy="91.30" r="1.1" fill="#1d3a68"/>
<circle cx="84.30" cy="99.90" r="1.1" fill="#1d3a68"/>
<circle cx="87.30" cy="94.00" r="1.1" fill="#1d3a68"/>
<circle cx="70.02" cy="81.59" r="1.1" fill="#1d3a68"/>
<circle cx="66.40" cy="85.57" r="1.1" fill="#1d3a68"/>
<circle cx="82.25" cy="91.30" r="1.1" fill="#1d3a68"/>
<circle cx="77.09" cy="85.89" r="1.1" fill="#1d3a68"/>
<circle cx="80.84" cy="84.80" r="1.1" fill="#1d3a68"/>
<circle cx="65.95" cy="85.19" r="1.1" fill="#1d3a68"/>
<circle cx="84.58" cy="81.44" r="1.1" fill="#1d3a68"/>
<circle cx="63.76" cy="87.77" r="1.1" fill="#1d3a68"/>
<circle cx="74.06" cy="81.98" r="1.1" fill="#1d3a68"/>
<circle cx="85.00" cy="83.78" r="1.1" fill="#1d3a68"/>
<circle cx="67.89" cy="85.04" r="1.1" fill="#1d3a68"/>
<circle cx="67.95" cy="81.31" r="1.1" fill="#1d3a68"/>
<circle cx="79.31" cy="91.11" r="1.1" fill="#1d3a68"/>
<circle cx="70.41" cy="85.37" r="1.1" fill="#1d3a68"/>
<circle cx="61.59" cy="85.42" r="1.1" fill="#1d3a68"/>
<circle cx="61.68" cy="86.50" r="1.1" fill="#1d3a68"/>
<circle cx="72.96" cy="84.75" r="1.1" fill="#1d3a68"/>
<circle cx="84.51" cy="83.85" r="1.1" fill="#1d3a68"/>
<circle cx="66.02" cy="86.90" r="1.1" fill="#1d3a68"/>
<circle cx="67.25" cy="82.10" r="1.1" fill="#1d3a68"/>
<circle cx="66.80" cy="90.72" r="1.1" fill="#1d3a68"/>
<circle cx="81.23" cy="86.28" r="1.1" fill="#1d3a68"/>
<circle cx="64.56" cy="84.74" r="1.1" fill="#1d3a68"/>
<circle cx="82.41" cy="85.79" r="1.1" fill="#1d3a68"/>
<circle cx="76.42" cy="84.66" r="1.1" fill="#1d3a68"/>
<circle cx="64.13" cy="81.40" r="1.1" fill="#1d3a68"/>
<circle cx="62.06" cy="82.47" r="1.1" fill="#1d3a68"/>
<circle cx="79.29" cy="82.40" r="1.1" fill="#1d3a68"/>
<circle cx="82.28" cy="85.44" r="1.1" fill="#1d3a68"/>
<circle cx="77.24" cy="91.21" r="1.1" fill="#1d3a68"/>
<circle cx="83.61" cy="86.41" r="1.1" fill="#1d3a68"/>
<circle cx="71.70" cy="87.08" r="1.1" fill="#1d3a68"/>
<circle cx="67.98" cy="84.43" r="1.1" fill="#1d3a68"/>
<circle cx="78.75" cy="82.99" r="1.1" fill="#1d3a68"/>
<circle cx="65.62" cy="82.34" r="1.1" fill="#1d3a68"/>
<circle cx="77.30" cy="84.28" r="1.1" fill="#1d3a68"/>
<circle cx="57.9" cy="113.4" r="1.0" fill="#222"/>
<line x1="35.60" y1="53.60" x2="125.50" y2="53.60" stroke="#111" stroke-width="1.4" stroke-dasharray="3.1,2.1"/>
<line x1="35.60" y1="80.40" x2="125.50" y2="80.40" stroke="#111" stroke-width="1.4" stroke-dasharray="3.1,2.1"/>
<line x1="87.90" y1="23.50" x2="87.90" y2="117.00" stroke="#111" stroke-width="1.4" stroke-dasharray="3.1,2.1"/>
<line x1="106.90" y1="27.60" x2="106.90" y2="117.00" stroke="#111" stroke-width="1.4" stroke-dasharray="3.1,2.1"/>
<line x1="35.40" y1="24.00" x2="35.40" y2="113.90" stroke="#000" stroke-width="1.3"/>
<line x1="32.20" y1="27.33" x2="36.00" y2="27.33" stroke="#111" stroke-width="1.2"/>
<line x1="32.20" y1="39.61" x2="36.00" y2="39.61" stroke="#111" stroke-width="1.2"/>
<line x1="32.20" y1="51.89" x2="36.00" y2="51.89" stroke="#111" stroke-width="1.2"/>
<line x1="32.20" y1="64.17" x2="36.00" y2="64.17" stroke="#111" stroke-width="1.2"/>
<line x1="32.20" y1="76.45" x2="36.00" y2="76.45" stroke="#111" stroke-width="1.2"/>
<line x1="32.20" y1="88.73" x2="36.00" y2="88.73" stroke="#111" stroke-width="1.2"/>
<line x1="32.20" y1="101.01" x2="36.00" y2="101.01" stroke="#111" stroke-width="1.2"/>
<line x1="32.20" y1="113.29" x2="36.00" y2="113.29" stroke="#111" stroke-width="1.2"/>
<line x1="38.90" y1="117.50" x2="122.30" y2="117.50" stroke="#000" stroke-width="1.3"/>
<line x1="39.82" y1="116.90" x2="39.82" y2="120.70" stroke="#111" stroke-width="1.2"/>
<line x1="55.56" y1="116.90" x2="55.56" y2="120.70" stroke="#111" stroke-width="1.2"/>
<line x1="71.30" y1="116.90" x2="71.30" y2="120.70" stroke="#111" stroke-width="1.2"/>
<line x1="87.04" y1="116.90" x2="87.04" y2="120.70" stroke="#111" stroke-width="1.2"/>
<line x1="102.78" y1="116.90" x2="102.78" y2="120.70" stroke="#111" stroke-width="1.2"/>
<line x1="118.52" y1="116.90" x2="118.52" y2="120.70" stroke="#111" stroke-width="1.2"/>
<text x="29.80" y="29.83" font-size="7" text-anchor="end" fill="#333" stroke="#333" stroke-width="0.18" >8</text>
<text x="29.80" y="78.95" font-size="7" text-anchor="end" fill="#333" stroke="#333" stroke-width="0.18" >0</text>
<text x="29.80" y="115.79" font-size="7" text-anchor="end" fill="#333" stroke="#333" stroke-width="0.18" >-6</text>
<text x="39.52" y="130.30" font-size="7" text-anchor="middle" fill="#333" stroke="#333" stroke-width="0.18" >-4</text>
<text x="71.30" y="130.30" font-size="7" text-anchor="middle" fill="#333" stroke="#333" stroke-width="0.18" >0</text>
<text x="118.52" y="130.30" font-size="7" text-anchor="middle" fill="#333" stroke="#333" stroke-width="0.18" >6</text>
<text x="53.60" y="142.20" font-size="8.3" text-anchor="start" fill="#1a1a1a" textLength="49.6" lengthAdjust="spacingAndGlyphs" stroke="#1a1a1a" stroke-width="0.33" >CD86 (log<tspan font-size="5.2" dy="1.9">2</tspan><tspan dy="-1.9"> FPKM)</tspan></text>
<text transform="rotate(-90 18.60 91.50)" x="18.60" y="91.50" font-size="8.3" text-anchor="start" fill="#1a1a1a" textLength="49.0" lengthAdjust="spacingAndGlyphs" stroke="#1a1a1a" stroke-width="0.33" >CD28 (log<tspan font-size="5.3" dy="1.6">2</tspan><tspan dy="-1.6"> FPKM)</tspan></text>
<text x="152.60" y="16.20" font-size="11.5" text-anchor="start" fill="#000" font-weight="bold" >B</text>
<path d="M182.4,28.3 L188.9,33.2 L194.8,38.4 L200.5,42.3 L203.7,43.2 V42.8 H206 V45 H208.9 V47.3 H211.9 V49.5 H215.6 V52.4 H219.3 V56.2 H223 V59.9 H225.3 V62.6 L230,64.4 L238.2,69 L240.5,71.8 H268.7 V93.2 H271.2" fill="none" stroke="#c4c4c4" stroke-width="1.5" stroke-linejoin="round"/>
<path d="M182.40,28.30 H192.60 V30.20 H196.30 V32.10 H215.60 V35.70 H233.30 V42.50 H240.60 V56.90 H263.20 V56.90" fill="none" stroke="#294878" stroke-width="1.5" stroke-linejoin="round"/>
<circle cx="199" cy="32.1" r="1.05" fill="#294878"/>
<circle cx="203" cy="32.1" r="1.05" fill="#294878"/>
<circle cx="207" cy="32.1" r="1.05" fill="#294878"/>
<circle cx="211" cy="32.1" r="1.05" fill="#294878"/>
<circle cx="219" cy="35.7" r="1.05" fill="#294878"/>
<circle cx="224" cy="35.7" r="1.05" fill="#294878"/>
<circle cx="229" cy="35.7" r="1.05" fill="#294878"/>
<circle cx="236.5" cy="42.5" r="1.05" fill="#294878"/>
<circle cx="247" cy="56.9" r="1.05" fill="#294878"/>
<circle cx="255" cy="56.9" r="1.05" fill="#294878"/>
<circle cx="262.6" cy="56.9" r="1.05" fill="#294878"/>
<path d="M182.40,28.30 H192.60 V34.60 H197.80 V36.10 H200.80 V39.10 H203.70 V42.80 H206.00 V45.00 H208.90 V47.30 H211.90 V49.50 H215.60 V52.40 H219.30 V56.20 H223.00 V59.90 H225.30 V62.40 H239.00 V72.30 H250.50 V72.30" fill="none" stroke="#981039" stroke-width="1.7" stroke-linejoin="round"/>
<circle cx="185.5" cy="28.3" r="1.1" fill="#981039"/>
<circle cx="189.5" cy="28.3" r="1.1" fill="#981039"/>
<circle cx="229" cy="62.4" r="1.1" fill="#981039"/>
<circle cx="233" cy="62.4" r="1.1" fill="#981039"/>
<circle cx="236.5" cy="62.4" r="1.1" fill="#981039"/>
<circle cx="242" cy="72.3" r="1.1" fill="#981039"/>
<circle cx="245.5" cy="72.3" r="1.1" fill="#981039"/>
<circle cx="249.8" cy="72.3" r="1.1" fill="#981039"/>
<line x1="182.05" y1="24.40" x2="182.05" y2="114.60" stroke="#000" stroke-width="1.3"/>
<line x1="178.85" y1="28.30" x2="182.65" y2="28.30" stroke="#111" stroke-width="1.2"/>
<line x1="178.85" y1="45.42" x2="182.65" y2="45.42" stroke="#111" stroke-width="1.2"/>
<line x1="178.85" y1="62.54" x2="182.65" y2="62.54" stroke="#111" stroke-width="1.2"/>
<line x1="178.85" y1="79.66" x2="182.65" y2="79.66" stroke="#111" stroke-width="1.2"/>
<line x1="178.85" y1="96.78" x2="182.65" y2="96.78" stroke="#111" stroke-width="1.2"/>
<line x1="178.85" y1="113.90" x2="182.65" y2="113.90" stroke="#111" stroke-width="1.2"/>
<line x1="181.70" y1="117.50" x2="273.60" y2="117.50" stroke="#000" stroke-width="1.3"/>
<line x1="182.40" y1="116.90" x2="182.40" y2="120.70" stroke="#111" stroke-width="1.2"/>
<line x1="195.40" y1="116.90" x2="195.40" y2="120.70" stroke="#111" stroke-width="1.2"/>
<line x1="208.40" y1="116.90" x2="208.40" y2="120.70" stroke="#111" stroke-width="1.2"/>
<line x1="221.40" y1="116.90" x2="221.40" y2="120.70" stroke="#111" stroke-width="1.2"/>
<line x1="234.40" y1="116.90" x2="234.40" y2="120.70" stroke="#111" stroke-width="1.2"/>
<line x1="247.40" y1="116.90" x2="247.40" y2="120.70" stroke="#111" stroke-width="1.2"/>
<line x1="260.40" y1="116.90" x2="260.40" y2="120.70" stroke="#111" stroke-width="1.2"/>
<line x1="273.40" y1="116.90" x2="273.40" y2="120.70" stroke="#111" stroke-width="1.2"/>
<text x="176.20" y="30.80" font-size="7" text-anchor="end" fill="#333" stroke="#333" stroke-width="0.18" >100</text>
<text x="176.20" y="116.40" font-size="7" text-anchor="end" fill="#333" stroke="#333" stroke-width="0.18" >0</text>
<text x="182.40" y="129.80" font-size="7" text-anchor="middle" fill="#333" stroke="#333" stroke-width="0.18" >0</text>
<text x="273.40" y="129.80" font-size="7" text-anchor="middle" fill="#333" stroke="#333" stroke-width="0.18" >1400</text>
<text x="222.90" y="141.00" font-size="8.7" text-anchor="start" fill="#1a1a1a" textLength="13.0" lengthAdjust="spacingAndGlyphs" stroke="#1a1a1a" stroke-width="0.33" >Days</text>
<text transform="rotate(-90 159.20 81.00)" x="159.20" y="81.00" font-size="8.3" text-anchor="start" fill="#1a1a1a" textLength="23.2" lengthAdjust="spacingAndGlyphs" stroke="#1a1a1a" stroke-width="0.33" >PFS (%)</text>
<text x="191.60" y="77.30" font-size="5.45" text-anchor="start" fill="#222" stroke="#222" stroke-width="0.15" >P = 0.031</text>
<text x="191.60" y="86.50" font-size="5.45" text-anchor="start" fill="#222" stroke="#222" stroke-width="0.15" >HR = 3.1</text>
<line x1="184.40" y1="93.30" x2="188.70" y2="93.30" stroke="#981039" stroke-width="1.3"/>
<text x="191.60" y="95.20" font-size="5.45" text-anchor="start" fill="#222" stroke="#222" stroke-width="0.15" >Top quartiles</text>
<line x1="184.40" y1="102.90" x2="188.70" y2="102.90" stroke="#101828" stroke-width="1.3"/>
<text x="191.60" y="104.30" font-size="5.45" text-anchor="start" fill="#222" stroke="#222" stroke-width="0.15" >Bottom quartiles</text>
<line x1="184.40" y1="111.10" x2="188.70" y2="111.10" stroke="#c4c4c4" stroke-width="1.3"/>
<text x="191.60" y="113.00" font-size="5.45" text-anchor="start" fill="#222" stroke="#222" stroke-width="0.15" >Other</text>
<path d="M324.50,28.20 L328.90,29.90 L336.90,32.40 L341.80,33.90 L347.70,36.40 L351.70,37.90 L357.00,40.00 L363.60,42.80 L371.50,44.30 L376.00,46.50 L382.40,48.90 L392.50,48.90 L392.50,51.50 L414.40,51.50" fill="none" stroke="#c4c4c4" stroke-width="1.6" stroke-linejoin="round"/>
<path d="M324.50,28.20 H335.40 V30.50 H408.80 V30.50" fill="none" stroke="#294878" stroke-width="1.5" stroke-linejoin="round"/>
<circle cx="369.5" cy="30.5" r="1.05" fill="#294878"/>
<circle cx="371.6" cy="30.5" r="1.05" fill="#294878"/>
<circle cx="373.4" cy="30.5" r="1.05" fill="#294878"/>
<circle cx="376.2" cy="30.5" r="1.05" fill="#294878"/>
<circle cx="379.6" cy="30.5" r="1.05" fill="#294878"/>
<circle cx="390.8" cy="30.5" r="1.05" fill="#294878"/>
<circle cx="402" cy="30.5" r="1.05" fill="#294878"/>
<circle cx="408.2" cy="30.5" r="1.05" fill="#294878"/>
<circle cx="356" cy="30.5" r="1.05" fill="#294878"/>
<circle cx="361" cy="30.5" r="1.05" fill="#294878"/>
<path d="M324.50,28.20 H335.40 V30.40 H350.20 V33.90 H351.70 V34.90 H354.70 V37.40 H355.70 V39.80 H362.60 V47.00 H413.80 V47.00" fill="none" stroke="#981039" stroke-width="1.7" stroke-linejoin="round"/>
<circle cx="329" cy="28.2" r="1.1" fill="#981039"/>
<circle cx="332.5" cy="28.2" r="1.1" fill="#981039"/>
<circle cx="340" cy="30.4" r="1.1" fill="#981039"/>
<circle cx="344" cy="30.4" r="1.1" fill="#981039"/>
<circle cx="347.5" cy="30.4" r="1.1" fill="#981039"/>
<circle cx="367.8" cy="47.0" r="1.1" fill="#981039"/>
<circle cx="370.6" cy="47.0" r="1.1" fill="#981039"/>
<circle cx="373.4" cy="47.0" r="1.1" fill="#981039"/>
<circle cx="376.2" cy="47.0" r="1.1" fill="#981039"/>
<circle cx="380.7" cy="47.0" r="1.1" fill="#981039"/>
<circle cx="384" cy="47.0" r="1.1" fill="#981039"/>
<circle cx="386.9" cy="47.0" r="1.1" fill="#981039"/>
<circle cx="389.1" cy="47.0" r="1.1" fill="#981039"/>
<circle cx="391.4" cy="47.0" r="1.1" fill="#981039"/>
<circle cx="412" cy="47.0" r="1.1" fill="#981039"/>
<line x1="324.40" y1="24.40" x2="324.40" y2="114.60" stroke="#000" stroke-width="1.3"/>
<line x1="321.20" y1="28.30" x2="325.00" y2="28.30" stroke="#111" stroke-width="1.2"/>
<line x1="321.20" y1="45.42" x2="325.00" y2="45.42" stroke="#111" stroke-width="1.2"/>
<line x1="321.20" y1="62.54" x2="325.00" y2="62.54" stroke="#111" stroke-width="1.2"/>
<line x1="321.20" y1="79.66" x2="325.00" y2="79.66" stroke="#111" stroke-width="1.2"/>
<line x1="321.20" y1="96.78" x2="325.00" y2="96.78" stroke="#111" stroke-width="1.2"/>
<line x1="321.20" y1="113.90" x2="325.00" y2="113.90" stroke="#111" stroke-width="1.2"/>
<line x1="323.90" y1="117.50" x2="415.20" y2="117.50" stroke="#000" stroke-width="1.3"/>
<line x1="324.40" y1="116.90" x2="324.40" y2="120.70" stroke="#111" stroke-width="1.2"/>
<line x1="336.96" y1="116.90" x2="336.96" y2="120.70" stroke="#111" stroke-width="1.2"/>
<line x1="349.52" y1="116.90" x2="349.52" y2="120.70" stroke="#111" stroke-width="1.2"/>
<line x1="362.08" y1="116.90" x2="362.08" y2="120.70" stroke="#111" stroke-width="1.2"/>
<line x1="374.64" y1="116.90" x2="374.64" y2="120.70" stroke="#111" stroke-width="1.2"/>
<line x1="387.20" y1="116.90" x2="387.20" y2="120.70" stroke="#111" stroke-width="1.2"/>
<line x1="399.76" y1="116.90" x2="399.76" y2="120.70" stroke="#111" stroke-width="1.2"/>
<line x1="412.32" y1="116.90" x2="412.32" y2="120.70" stroke="#111" stroke-width="1.2"/>
<text x="319.20" y="30.80" font-size="7" text-anchor="end" fill="#333" stroke="#333" stroke-width="0.18" >100</text>
<text x="318.40" y="116.40" font-size="7" text-anchor="end" fill="#333" stroke="#333" stroke-width="0.18" >0</text>
<text x="324.40" y="129.80" font-size="7" text-anchor="middle" fill="#333" stroke="#333" stroke-width="0.18" >0</text>
<text x="412.32" y="129.80" font-size="7" text-anchor="middle" fill="#333" stroke="#333" stroke-width="0.18" >1400</text>
<text x="363.50" y="140.70" font-size="8.7" text-anchor="start" fill="#1a1a1a" textLength="12.5" lengthAdjust="spacingAndGlyphs" stroke="#1a1a1a" stroke-width="0.33" >Days</text>
<text transform="rotate(-90 302.00 79.50)" x="302.00" y="79.50" font-size="8.5" text-anchor="start" fill="#1a1a1a" textLength="20.5" lengthAdjust="spacingAndGlyphs" stroke="#1a1a1a" stroke-width="0.33" >OS (%)</text>
<text x="329.60" y="105.30" font-size="6.7" text-anchor="start" fill="#222" stroke="#222" stroke-width="0.15" >P = 0.049</text>
<text x="329.60" y="114.50" font-size="6.7" text-anchor="start" fill="#222" stroke="#222" stroke-width="0.15" >HR = 6.2</text>
<text x="6.40" y="170.40" font-size="11.5" text-anchor="start" fill="#000" font-weight="bold" >C</text>
<rect x="47.46" y="262.90" width="8.56" height="3.30" fill="#aa0431" stroke="#30000c" stroke-width="1.0"/>
<rect x="56.02" y="261.96" width="8.56" height="4.24" fill="#aa0431" stroke="#30000c" stroke-width="1.0"/>
<rect x="64.58" y="260.53" width="8.56" height="5.67" fill="#aa0431" stroke="#30000c" stroke-width="1.0"/>
<rect x="73.14" y="259.68" width="8.56" height="6.52" fill="#aa0431" stroke="#30000c" stroke-width="1.0"/>
<rect x="81.70" y="264.25" width="8.56" height="1.95" fill="#aa0431" stroke="#30000c" stroke-width="1.0"/>
<rect x="90.26" y="256.21" width="8.56" height="9.99" fill="#aa0431" stroke="#30000c" stroke-width="1.0"/>
<rect x="98.82" y="265.35" width="8.56" height="0.85" fill="#aa0431" stroke="#30000c" stroke-width="1.0"/>
<rect x="107.38" y="265.95" width="8.56" height="0.25" fill="#aa0431" stroke="#30000c" stroke-width="1.0"/>
<rect x="115.94" y="180.23" width="8.56" height="85.97" fill="#aa0431" stroke="#30000c" stroke-width="1.0"/>
<line x1="35.60" y1="177.30" x2="35.60" y2="266.80" stroke="#000" stroke-width="1.3"/>
<line x1="32.40" y1="181.50" x2="36.20" y2="181.50" stroke="#111" stroke-width="1.2"/>
<line x1="32.40" y1="198.44" x2="36.20" y2="198.44" stroke="#111" stroke-width="1.2"/>
<line x1="32.40" y1="215.38" x2="36.20" y2="215.38" stroke="#111" stroke-width="1.2"/>
<line x1="32.40" y1="232.32" x2="36.20" y2="232.32" stroke="#111" stroke-width="1.2"/>
<line x1="32.40" y1="249.26" x2="36.20" y2="249.26" stroke="#111" stroke-width="1.2"/>
<line x1="32.40" y1="266.20" x2="36.20" y2="266.20" stroke="#111" stroke-width="1.2"/>
<line x1="38.20" y1="270.00" x2="128.00" y2="270.00" stroke="#000" stroke-width="1.3"/>
<line x1="38.90" y1="269.40" x2="38.90" y2="273.20" stroke="#111" stroke-width="1.2"/>
<line x1="56.02" y1="269.40" x2="56.02" y2="273.20" stroke="#111" stroke-width="1.2"/>
<line x1="73.14" y1="269.40" x2="73.14" y2="273.20" stroke="#111" stroke-width="1.2"/>
<line x1="90.26" y1="269.40" x2="90.26" y2="273.20" stroke="#111" stroke-width="1.2"/>
<line x1="107.38" y1="269.40" x2="107.38" y2="273.20" stroke="#111" stroke-width="1.2"/>
<line x1="124.50" y1="269.40" x2="124.50" y2="273.20" stroke="#111" stroke-width="1.2"/>
<text x="29.60" y="184.00" font-size="7" text-anchor="end" fill="#333" stroke="#333" stroke-width="0.18" >100</text>
<text x="29.60" y="268.70" font-size="7" text-anchor="end" fill="#333" stroke="#333" stroke-width="0.18" >0</text>
<text x="38.50" y="281.80" font-size="7" text-anchor="middle" fill="#333" stroke="#333" stroke-width="0.18" >0</text>
<text x="124.50" y="281.80" font-size="7" text-anchor="middle" fill="#333" stroke="#333" stroke-width="0.18" >100</text>
<text x="68.70" y="293.60" font-size="8.3" text-anchor="start" fill="#1a1a1a" textLength="25.8" lengthAdjust="spacingAndGlyphs" stroke="#1a1a1a" stroke-width="0.33" >% CD28+</text>
<text transform="rotate(-90 12.90 233.00)" x="12.90" y="233.00" font-size="8.4" text-anchor="start" fill="#1a1a1a" textLength="21.8" lengthAdjust="spacingAndGlyphs" stroke="#1a1a1a" stroke-width="0.33" >Patients</text>
<line x1="189.30" y1="187.20" x2="189.30" y2="210.60" stroke="#111" stroke-width="1.1" stroke-dasharray="3,2.2"/>
<line x1="189.30" y1="229.90" x2="189.30" y2="248.60" stroke="#111" stroke-width="1.1" stroke-dasharray="3,2.2"/>
<line x1="180.80" y1="187.20" x2="198.00" y2="187.20" stroke="#111" stroke-width="1.3"/>
<line x1="180.80" y1="248.60" x2="198.00" y2="248.60" stroke="#111" stroke-width="1.3"/>
<rect x="172.00" y="210.60" width="34.60" height="19.30" fill="#b5082f"/>
<line x1="172.00" y1="222.00" x2="206.60" y2="222.00" stroke="#4a0010" stroke-width="2.0"/>
<line x1="232.25" y1="180.60" x2="232.25" y2="198.70" stroke="#111" stroke-width="1.1" stroke-dasharray="3,2.2"/>
<line x1="232.25" y1="216.60" x2="232.25" y2="240.70" stroke="#111" stroke-width="1.1" stroke-dasharray="3,2.2"/>
<line x1="223.30" y1="180.60" x2="241.00" y2="180.60" stroke="#111" stroke-width="1.3"/>
<line x1="223.30" y1="240.70" x2="241.00" y2="240.70" stroke="#111" stroke-width="1.3"/>
<rect x="215.20" y="198.70" width="34.10" height="17.90" fill="#b5082f"/>
<line x1="215.20" y1="206.90" x2="249.30" y2="206.90" stroke="#4a0010" stroke-width="2.0"/>
<circle cx="232.1" cy="265.9" r="1.2" fill="#7a0a26"/>
<line x1="164.50" y1="189.50" x2="164.50" y2="258.80" stroke="#000" stroke-width="1.3"/>
<line x1="161.30" y1="193.28" x2="165.10" y2="193.28" stroke="#111" stroke-width="1.2"/>
<line x1="161.30" y1="214.02" x2="165.10" y2="214.02" stroke="#111" stroke-width="1.2"/>
<line x1="161.30" y1="234.76" x2="165.10" y2="234.76" stroke="#111" stroke-width="1.2"/>
<line x1="161.30" y1="255.50" x2="165.10" y2="255.50" stroke="#111" stroke-width="1.2"/>
<text x="159.60" y="195.78" font-size="7" text-anchor="end" fill="#333" stroke="#333" stroke-width="0.18" >6</text>
<text x="159.60" y="258.00" font-size="7" text-anchor="end" fill="#333" stroke="#333" stroke-width="0.18" >0</text>
<text transform="rotate(-90 149.90 248.40)" x="149.90" y="248.40" font-size="8.2" text-anchor="start" fill="#1a1a1a" textLength="48.4" lengthAdjust="spacingAndGlyphs" stroke="#1a1a1a" stroke-width="0.33" >CD28 (log<tspan font-size="5.3" dy="1.6">2</tspan><tspan dy="-1.6"> FPKM)</tspan></text>
<text x="210.60" y="171.70" font-size="5.7" text-anchor="middle" fill="#222" stroke="#222" stroke-width="0.15" >P=0.00104</text>
<line x1="189.40" y1="175.90" x2="231.90" y2="175.90" stroke="#000" stroke-width="1.2"/>
<line x1="186.20" y1="270.00" x2="234.80" y2="270.00" stroke="#000" stroke-width="1.3"/>
<line x1="189.50" y1="269.40" x2="189.50" y2="273.20" stroke="#111" stroke-width="1.2"/>
<line x1="232.00" y1="269.40" x2="232.00" y2="273.20" stroke="#111" stroke-width="1.2"/>
<text x="189.50" y="282.30" font-size="7" text-anchor="middle" fill="#333" stroke="#333" stroke-width="0.18" >&lt;100%</text>
<text x="232.60" y="282.30" font-size="7" text-anchor="middle" fill="#333" stroke="#333" stroke-width="0.18" >100%</text>
<text x="201.20" y="293.40" font-size="8.8" text-anchor="start" fill="#1a1a1a" textLength="18.9" lengthAdjust="spacingAndGlyphs" stroke="#1a1a1a" stroke-width="0.33" >CD28+</text>
<text x="261.50" y="170.30" font-size="11.5" text-anchor="start" fill="#000" font-weight="bold" >D</text>
<path d="M291.00,180.30 H324.50 V184.20 H326.50 V186.80 H348.00 V192.20 H379.20 V192.20" fill="none" stroke="#46628a" stroke-width="1.3" stroke-linejoin="round"/>
<circle cx="297" cy="180.3" r="1.0" fill="#46628a"/>
<circle cx="304" cy="180.3" r="1.0" fill="#46628a"/>
<circle cx="307" cy="180.3" r="1.0" fill="#46628a"/>
<circle cx="313" cy="180.3" r="1.0" fill="#46628a"/>
<circle cx="318" cy="180.3" r="1.0" fill="#46628a"/>
<circle cx="320" cy="180.3" r="1.0" fill="#46628a"/>
<circle cx="331" cy="186.8" r="1.0" fill="#46628a"/>
<circle cx="336" cy="186.8" r="1.0" fill="#46628a"/>
<circle cx="340" cy="186.8" r="1.0" fill="#46628a"/>
<circle cx="355" cy="192.2" r="1.0" fill="#46628a"/>
<circle cx="362" cy="192.2" r="1.0" fill="#46628a"/>
<circle cx="365" cy="192.2" r="1.0" fill="#46628a"/>
<circle cx="368" cy="192.2" r="1.0" fill="#46628a"/>
<circle cx="374" cy="192.2" r="1.0" fill="#46628a"/>
<path d="M291.00,180.30 H291.60 V182.30 H302.40 V183.20 H305.30 V184.20 H313.00 V185.10 H315.90 V186.60 H317.80 V189.00 H319.30 V190.90 H333.20 V193.30 H337.90 V195.20 H341.70 V197.00 H366.70 V208.00 H380.20 V208.00" fill="none" stroke="#981039" stroke-width="1.7" stroke-linejoin="round"/>
<circle cx="297" cy="182.3" r="1.05" fill="#981039"/>
<circle cx="300" cy="182.3" r="1.05" fill="#981039"/>
<circle cx="309" cy="184.2" r="1.05" fill="#981039"/>
<circle cx="323" cy="190.9" r="1.05" fill="#981039"/>
<circle cx="326" cy="190.9" r="1.05" fill="#981039"/>
<circle cx="329" cy="190.9" r="1.05" fill="#981039"/>
<circle cx="345" cy="197" r="1.05" fill="#981039"/>
<circle cx="349" cy="197" r="1.05" fill="#981039"/>
<circle cx="352" cy="197" r="1.05" fill="#981039"/>
<circle cx="356" cy="197" r="1.05" fill="#981039"/>
<circle cx="359" cy="197" r="1.05" fill="#981039"/>
<circle cx="362" cy="197" r="1.05" fill="#981039"/>
<circle cx="371" cy="208" r="1.05" fill="#981039"/>
<circle cx="375" cy="208" r="1.05" fill="#981039"/>
<circle cx="379.5" cy="208" r="1.05" fill="#981039"/>
<line x1="291.00" y1="177.00" x2="291.00" y2="266.80" stroke="#000" stroke-width="1.3"/>
<line x1="287.80" y1="180.50" x2="291.60" y2="180.50" stroke="#111" stroke-width="1.2"/>
<line x1="287.80" y1="197.66" x2="291.60" y2="197.66" stroke="#111" stroke-width="1.2"/>
<line x1="287.80" y1="214.82" x2="291.60" y2="214.82" stroke="#111" stroke-width="1.2"/>
<line x1="287.80" y1="231.98" x2="291.60" y2="231.98" stroke="#111" stroke-width="1.2"/>
<line x1="287.80" y1="249.14" x2="291.60" y2="249.14" stroke="#111" stroke-width="1.2"/>
<line x1="287.80" y1="266.30" x2="291.60" y2="266.30" stroke="#111" stroke-width="1.2"/>
<line x1="290.20" y1="269.90" x2="377.40" y2="269.90" stroke="#000" stroke-width="1.3"/>
<line x1="291.10" y1="269.30" x2="291.10" y2="273.10" stroke="#111" stroke-width="1.2"/>
<line x1="307.88" y1="269.30" x2="307.88" y2="273.10" stroke="#111" stroke-width="1.2"/>
<line x1="324.66" y1="269.30" x2="324.66" y2="273.10" stroke="#111" stroke-width="1.2"/>
<line x1="341.44" y1="269.30" x2="341.44" y2="273.10" stroke="#111" stroke-width="1.2"/>
<line x1="358.22" y1="269.30" x2="358.22" y2="273.10" stroke="#111" stroke-width="1.2"/>
<line x1="375.00" y1="269.30" x2="375.00" y2="273.10" stroke="#111" stroke-width="1.2"/>
<text x="285.00" y="183.00" font-size="7" text-anchor="end" fill="#333" stroke="#333" stroke-width="0.18" >100</text>
<text x="285.00" y="268.80" font-size="7" text-anchor="end" fill="#333" stroke="#333" stroke-width="0.18" >0</text>
<text x="291.10" y="281.40" font-size="7" text-anchor="middle" fill="#333" stroke="#333" stroke-width="0.18" >0</text>
<text x="375.50" y="281.40" font-size="7" text-anchor="middle" fill="#333" stroke="#333" stroke-width="0.18" >500</text>
<text x="328.50" y="293.60" font-size="9.1" text-anchor="start" fill="#1a1a1a" textLength="12.8" lengthAdjust="spacingAndGlyphs" stroke="#1a1a1a" stroke-width="0.33" >Days</text>
<text transform="rotate(-90 268.20 233.00)" x="268.20" y="233.00" font-size="8.3" text-anchor="start" fill="#1a1a1a" textLength="21.8" lengthAdjust="spacingAndGlyphs" stroke="#1a1a1a" stroke-width="0.33" >PFS (%)</text>
<text x="304.80" y="232.00" font-size="5.2" text-anchor="start" fill="#222" stroke="#222" stroke-width="0.15" >HR=2.1</text>
<text x="304.80" y="242.50" font-size="5.2" text-anchor="start" fill="#222" stroke="#222" stroke-width="0.15" >P=0.23</text>
<line x1="298.30" y1="249.50" x2="302.30" y2="249.50" stroke="#1c2c48" stroke-width="1.2"/>
<text x="304.60" y="251.20" font-size="5.2" text-anchor="start" fill="#222" stroke="#222" stroke-width="0.15" >&lt;100%</text>
<line x1="298.30" y1="259.80" x2="302.30" y2="259.80" stroke="#981039" stroke-width="1.2"/>
<text x="305.20" y="261.50" font-size="5.2" text-anchor="start" fill="#222" stroke="#222" stroke-width="0.15" >100%</text>
<path d="M422.70,180.60 H456.30 V183.90 H510.20 V183.90" fill="none" stroke="#46628a" stroke-width="1.3" stroke-linejoin="round"/>
<circle cx="430" cy="180.6" r="1.0" fill="#46628a"/>
<circle cx="437" cy="180.6" r="1.0" fill="#46628a"/>
<circle cx="446" cy="180.6" r="1.0" fill="#46628a"/>
<circle cx="449" cy="180.6" r="1.0" fill="#46628a"/>
<circle cx="462" cy="183.9" r="1.0" fill="#46628a"/>
<circle cx="469" cy="183.9" r="1.0" fill="#46628a"/>
<circle cx="476" cy="183.9" r="1.0" fill="#46628a"/>
<circle cx="484" cy="183.9" r="1.0" fill="#46628a"/>
<circle cx="492" cy="183.9" r="1.0" fill="#46628a"/>
<circle cx="498" cy="183.9" r="1.0" fill="#46628a"/>
<circle cx="503" cy="183.9" r="1.0" fill="#46628a"/>
<circle cx="509.5" cy="183.9" r="1.0" fill="#46628a"/>
<path d="M422.70,180.60 H425.60 V181.20 H430.40 V182.00 H436.20 V183.20 H439.00 V184.70 H446.70 V185.50 H470.80 V185.50 H474.60 V187.00 H477.00 V188.90 H480.40 V190.80 H511.20 V190.80" fill="none" stroke="#981039" stroke-width="1.7" stroke-linejoin="round"/>
<circle cx="442" cy="184.7" r="1.05" fill="#981039"/>
<circle cx="450" cy="185.5" r="1.05" fill="#981039"/>
<circle cx="455" cy="185.5" r="1.05" fill="#981039"/>
<circle cx="460" cy="185.5" r="1.05" fill="#981039"/>
<circle cx="465" cy="185.5" r="1.05" fill="#981039"/>
<circle cx="485" cy="190.8" r="1.05" fill="#981039"/>
<circle cx="490" cy="190.8" r="1.05" fill="#981039"/>
<circle cx="495" cy="190.8" r="1.05" fill="#981039"/>
<circle cx="500" cy="190.8" r="1.05" fill="#981039"/>
<circle cx="505" cy="190.8" r="1.05" fill="#981039"/>
<circle cx="510" cy="190.8" r="1.05" fill="#981039"/>
<line x1="423.20" y1="177.00" x2="423.20" y2="266.80" stroke="#000" stroke-width="1.3"/>
<line x1="420.00" y1="180.50" x2="423.80" y2="180.50" stroke="#111" stroke-width="1.2"/>
<line x1="420.00" y1="197.66" x2="423.80" y2="197.66" stroke="#111" stroke-width="1.2"/>
<line x1="420.00" y1="214.82" x2="423.80" y2="214.82" stroke="#111" stroke-width="1.2"/>
<line x1="420.00" y1="231.98" x2="423.80" y2="231.98" stroke="#111" stroke-width="1.2"/>
<line x1="420.00" y1="249.14" x2="423.80" y2="249.14" stroke="#111" stroke-width="1.2"/>
<line x1="420.00" y1="266.30" x2="423.80" y2="266.30" stroke="#111" stroke-width="1.2"/>
<line x1="422.10" y1="269.90" x2="509.60" y2="269.90" stroke="#000" stroke-width="1.3"/>
<line x1="422.80" y1="269.30" x2="422.80" y2="273.10" stroke="#111" stroke-width="1.2"/>
<line x1="439.60" y1="269.30" x2="439.60" y2="273.10" stroke="#111" stroke-width="1.2"/>
<line x1="456.40" y1="269.30" x2="456.40" y2="273.10" stroke="#111" stroke-width="1.2"/>
<line x1="473.20" y1="269.30" x2="473.20" y2="273.10" stroke="#111" stroke-width="1.2"/>
<line x1="490.00" y1="269.30" x2="490.00" y2="273.10" stroke="#111" stroke-width="1.2"/>
<line x1="506.80" y1="269.30" x2="506.80" y2="273.10" stroke="#111" stroke-width="1.2"/>
<text x="416.80" y="183.00" font-size="7" text-anchor="end" fill="#333" stroke="#333" stroke-width="0.18" >100</text>
<text x="416.80" y="268.80" font-size="7" text-anchor="end" fill="#333" stroke="#333" stroke-width="0.18" >0</text>
<text x="422.80" y="281.40" font-size="7" text-anchor="middle" fill="#333" stroke="#333" stroke-width="0.18" >0</text>
<text x="506.80" y="281.40" font-size="7" text-anchor="middle" fill="#333" stroke="#333" stroke-width="0.18" >500</text>
<text x="460.00" y="293.60" font-size="9.1" text-anchor="start" fill="#1a1a1a" textLength="12.3" lengthAdjust="spacingAndGlyphs" stroke="#1a1a1a" stroke-width="0.33" >Days</text>
<text transform="rotate(-90 400.00 231.70)" x="400.00" y="231.70" font-size="8.3" text-anchor="start" fill="#1a1a1a" textLength="20.0" lengthAdjust="spacingAndGlyphs" stroke="#1a1a1a" stroke-width="0.33" >OS (%)</text>
<text x="427.20" y="252.70" font-size="6.3" text-anchor="start" fill="#222" stroke="#222" stroke-width="0.15" >HR=3.1</text>
<text x="427.20" y="262.40" font-size="6.3" text-anchor="start" fill="#222" stroke="#222" stroke-width="0.15" >P=0.28</text>
<rect x="0" y="0" width="520" height="1.3" fill="#000"/>
<rect x="0" y="0" width="1.4" height="303" fill="#000"/>
<rect x="518.5" y="0" width="1.5" height="303" fill="#000"/>
<rect x="0" y="301.4" width="520" height="1.6" fill="#000"/>
</svg>
</body></html>
